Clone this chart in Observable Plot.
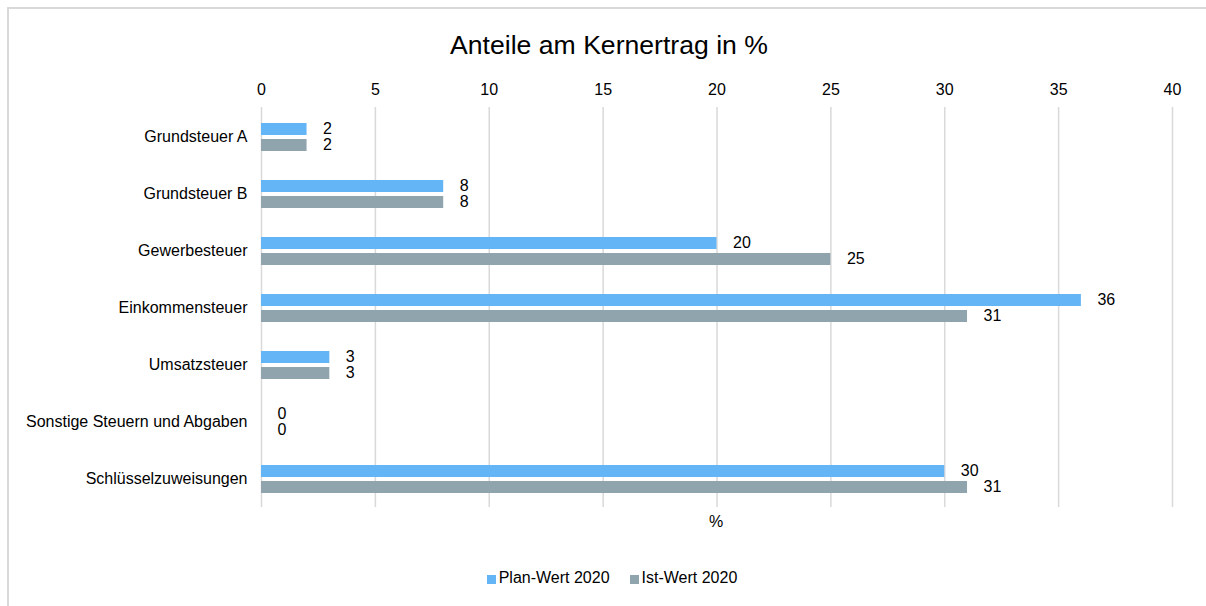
<!DOCTYPE html>
<html>
<head>
<meta charset="utf-8">
<script src="https://cdn.jsdelivr.net/npm/d3@7"></script>
<script src="https://cdn.jsdelivr.net/npm/@observablehq/plot@0.6"></script>
<style>
  html, body { margin: 0; padding: 0; background: #fff; width: 1206px; height: 606px; overflow: hidden;
    font-family: "Liberation Sans", Arial, sans-serif; color: #000; }
  #frame { position: absolute; left: 7px; top: 7px; width: 1400px; height: 800px;
    border-top: 2px solid #d9d9d9; border-left: 2px solid #d9d9d9; box-sizing: border-box; }
  #title { position: absolute; left: 8px; width: 1202px; top: 29px; line-height: 32px;
    text-align: center; font-size: 26.6px; }
  #chart { position: absolute; left: 0; top: 0; }
  #xlabel { position: absolute; left: 666px; width: 100px; top: 513px; line-height: 18px;
    text-align: center; font-size: 16px; }
  #legend { position: absolute; left: 8px; width: 1208px; top: 569px; display: flex;
    justify-content: center; align-items: center; font-size: 16px; line-height: 18px; }
  .item { display: flex; align-items: center; margin: 0 10px; }
  .sw { width: 9px; height: 9px; margin-right: 3px; margin-top: 3px; }
</style>
</head>
<body>
<div id="frame"></div>
<div id="title">Anteile am Kernertrag in %</div>
<div id="chart"></div>
<div id="xlabel">%</div>
<div id="legend"></div>
<script>
const categories = ["Grundsteuer A", "Grundsteuer B", "Gewerbesteuer", "Einkommensteuer", "Umsatzsteuer", "Sonstige Steuern und Abgaben", "Schlüsselzuweisungen"];
const seriesNames = ["Plan-Wert 2020", "Ist-Wert 2020"];
const planValues = [2, 8, 20, 36, 3, 0, 30];
const istValues = [2, 8, 25, 31, 3, 0, 31];
const xTicks = [0, 5, 10, 15, 20, 25, 30, 35, 40];
const colors = ["#64B5F6", "#90A4AE"];

const plan = categories.map((c, i) => ({category: c, value: planValues[i]}));
const ist = categories.map((c, i) => ({category: c, value: istValues[i]}));

const chart = Plot.plot({
  width: 1206,
  height: 515,
  marginTop: 107,
  marginBottom: 8,
  marginLeft: 261,
  marginRight: 34,
  style: { fontFamily: "'Liberation Sans', Arial, sans-serif", fontSize: "16px", color: "#000", background: "transparent" },
  x: { domain: [0, 40], axis: "top", ticks: xTicks, tickSize: 0, tickPadding: 13, label: null },
  y: { domain: categories, padding: 0, tickSize: 0, tickPadding: 14, label: null },
  marks: [
    Plot.ruleX(xTicks, { stroke: "#d9d9d9", strokeWidth: 1.5 }),
    Plot.barX(plan, { x: "value", y: "category", fill: colors[0], insetTop: 15, insetBottom: 30 }),
    Plot.barX(ist, { x: "value", y: "category", fill: colors[1], insetTop: 31, insetBottom: 14 }),
    Plot.text(plan, { x: "value", y: "category", text: d => String(d.value), textAnchor: "start", dx: 16, dy: -8, fontSize: 16, fill: "#000" }),
    Plot.text(ist, { x: "value", y: "category", text: d => String(d.value), textAnchor: "start", dx: 16, dy: 8, fontSize: 16, fill: "#000" })
  ]
});
document.getElementById("chart").appendChild(chart);

const legend = document.getElementById("legend");
seriesNames.forEach((name, i) => {
  const item = document.createElement("div");
  item.className = "item";
  const sw = document.createElement("div");
  sw.className = "sw";
  sw.style.background = colors[i];
  const label = document.createElement("span");
  label.textContent = name;
  item.appendChild(sw);
  item.appendChild(label);
  legend.appendChild(item);
});
</script>
</body>
</html>
